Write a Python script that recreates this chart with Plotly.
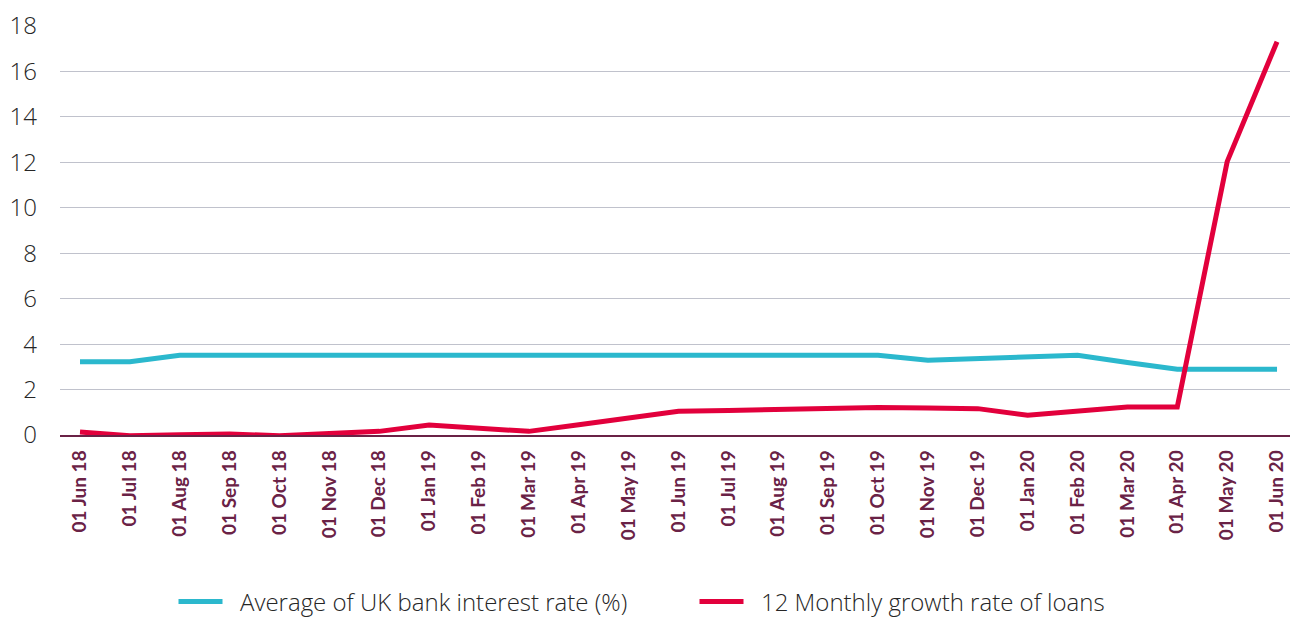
import plotly.graph_objects as go

# Monthly observation dates (category labels on the x axis)
months = [
    "01 Jun 18", "01 Jul 18", "01 Aug 18", "01 Sep 18", "01 Oct 18", "01 Nov 18",
    "01 Dec 18", "01 Jan 19", "01 Feb 19", "01 Mar 19", "01 Apr 19", "01 May 19",
    "01 Jun 19", "01 Jul 19", "01 Aug 19", "01 Sep 19", "01 Oct 19", "01 Nov 19",
    "01 Dec 19", "01 Jan 20", "01 Feb 20", "01 Mar 20", "01 Apr 20", "01 May 20",
    "01 Jun 20",
]

# Average of UK bank interest rate (%)
interest_rate = [
    3.22, 3.22, 3.51, 3.51, 3.51, 3.51, 3.51, 3.51, 3.51, 3.51, 3.51, 3.51,
    3.51, 3.51, 3.51, 3.51, 3.51, 3.29, 3.36, 3.44, 3.51, 3.19, 2.89, 2.89,
    2.89,
]

# 12 monthly growth rate of loans
loan_growth = [
    0.13, -0.03, 0.01, 0.04, -0.03, 0.07, 0.16, 0.44, 0.32, 0.16, 0.45, 0.75,
    1.04, 1.08, 1.12, 1.17, 1.21, 1.19, 1.16, 0.87, 1.07, 1.23, 1.23, 12.03,
    17.31,
]

y_ticks = [0, 2, 4, 6, 8, 10, 12, 14, 16, 18]

CYAN = "#2bb8cd"
RED = "#e2003c"
MAROON = "#6a2246"
TEXT = "#262626"
GRID = "#c0c2cc"
PAD = "\u00a0\u00a0"  # keeps a little air between legend swatch and label

fig = go.Figure()
fig.add_trace(go.Scatter(
    x=months, y=interest_rate, mode="lines",
    name=PAD + "Average of UK bank interest rate (%)",
    line=dict(color=CYAN, width=5),
))
fig.add_trace(go.Scatter(
    x=months, y=loan_growth, mode="lines",
    name=PAD + "12 Monthly growth rate of loans",
    line=dict(color=RED, width=5),
))

fig.update_layout(
    width=1293, height=618,
    margin=dict(l=60, r=3, t=26, b=183, autoexpand=False),
    paper_bgcolor="white", plot_bgcolor="white",
    showlegend=True,
    legend=dict(
        orientation="h",
        xref="container", yref="container",
        x=173.5 / 1293, xanchor="left",
        y=(618 - 602) / 618, yanchor="middle",
        font=dict(family="Open Sans", size=24, color=TEXT, weight=300),
        itemwidth=44,
        entrywidth=462,
        tracegroupgap=0,
    ),
    font=dict(family="Open Sans", color=TEXT),
)

fig.update_xaxes(
    type="category",
    range=[-0.401, 24.26],
    tickangle=-90,
    tickfont=dict(family="Lato", size=19, color=MAROON, weight=700),
    ticks="", ticklabelstandoff=6,
    showgrid=False,
    showline=True, linecolor=MAROON, linewidth=1.5,
    zeroline=False,
    automargin=False,
)

fig.update_yaxes(
    range=[0, 18],
    tickvals=y_ticks,
    tickfont=dict(family="Open Sans", size=24, color=TEXT, weight=300),
    ticks="", ticklabelstandoff=22,
    showgrid=True, gridcolor=GRID, gridwidth=1,
    zeroline=False,
    showline=False,
    automargin=False,
)

fig.write_html("out.html")
